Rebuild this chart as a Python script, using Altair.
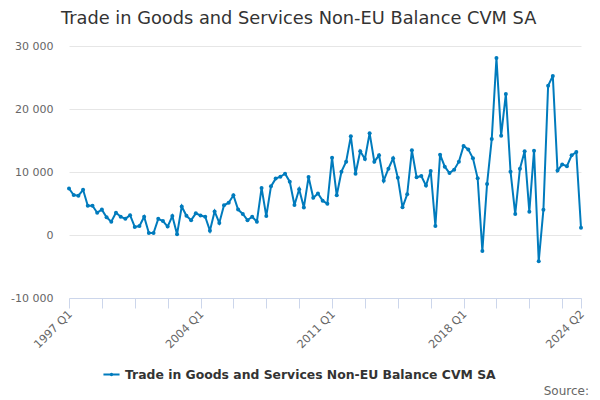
import altair as alt
import pandas as pd

SERIES = "Trade in Goods and Services Non-EU Balance CVM SA"
values = [
    7380, 6350, 6250, 7180, 4650, 4650, 3540, 4030, 2800, 2120,
    3540, 2900, 2560, 3150, 1280, 1430, 2900, 300, 300, 2560,
    2210, 1330, 3000, 100, 4530, 3050, 2360, 3440, 3100, 2900,
    690, 3740, 1920, 4720, 5120, 6300, 4030, 3350, 2360, 2900,
    2120, 7480, 3000, 7720, 8950, 9250, 9740, 8460, 4770, 7280,
    4380, 9200, 5900, 6590, 5450, 4960, 12270, 6300, 10050, 11640,
    15660, 9720, 13290, 12060, 16170, 11640, 12650, 8630, 10520, 12170,
    9100, 4390, 6450, 13440, 9160, 9360, 7840, 10160, 1430, 12750,
    10840, 9840, 10370, 11640, 14130, 13590, 12170, 9000, -2540, 8090,
    15240, 28090, 15770, 22380, 10050, 3330, 10520, 13290, 3700, 13390,
    -4170, 4020, 23710, 25240, 10220, 11210, 10910, 12650, 13170, 1160,
]
quarters = [f"{1997 + i // 4} Q{i % 4 + 1}" for i in range(len(values))]
tick_quarters = quarters[::7] + [quarters[-1]]
label_quarters = ["1997 Q1", "2004 Q1", "2011 Q1", "2018 Q1", "2024 Q2"]
y_ticks = [-10000, 0, 10000, 20000, 30000]

df = pd.DataFrame({"quarter": quarters, "value": values, "series": SERIES})

FONT = "DejaVu Sans"
BLUE = "#007bbd"
x = alt.X(
    "quarter:O",
    sort=quarters,
    scale=alt.Scale(type="point", padding=0),
    title=None,
    axis=alt.Axis(
        values=tick_quarters,
        labelExpr="indexof(" + str(label_quarters) + ", datum.value) >= 0 ? datum.value : ''",
        labelAngle=-45,
        labelAlign="right",
        labelBaseline="top",
        labelFont=FONT,
        labelFontSize=11.3,
        labelColor="#666666",
        labelOverlap=False,
        labelPadding=0,
        labelOffset=-3,
        tickColor="#ccd6eb",
        tickSize=10,
        domainColor="#ccd6eb",
        grid=False,
    ),
)
y = alt.Y(
    "value:Q",
    scale=alt.Scale(domain=[-10000, 30000], nice=False),
    title=None,
    axis=alt.Axis(
        values=y_ticks,
        labelExpr="replace(replace(format(datum.value, ','), ',', ' '), '\u2212', '-')",
        labelFont=FONT,
        labelFontSize=11,
        labelColor="#666666",
        labelPadding=16,
        ticks=False,
        domain=False,
        gridColor="#e6e6e6",
    ),
)
color = alt.Color(
    "series:N",
    scale=alt.Scale(range=[BLUE]),
    legend=alt.Legend(
        title=None,
        orient="none",
        legendX=33,
        legendY=319,
        symbolType="M-1,0H1M-0.1,0A0.1,0.1,0,1,1,0.1,0A0.1,0.1,0,1,1,-0.1,0",
        symbolSize=260,
        symbolStrokeWidth=2,
        labelFont=FONT,
        labelFontSize=12.4,
        labelFontWeight="bold",
        labelColor="#333333",
        labelLimit=500,
    ),
)

line = alt.Chart(df).mark_line(strokeWidth=2).encode(x=x, y=y, color=color)
points = alt.Chart(df).mark_point(filled=True, size=16, opacity=1).encode(x=x, y=y, color=alt.Color("series:N", legend=None, scale=alt.Scale(range=[BLUE])))
source = alt.Chart(pd.DataFrame({"t": ["Source:"]})).mark_text(
    align="right", font=FONT, fontSize=12, color="#666666", baseline="middle"
).encode(text="t:N", x=alt.value(520), y=alt.value(345))

chart = alt.layer(line, points, source).properties(
    width=512,
    height=252,
    padding={"left": 61, "top": 38, "right": 11, "bottom": 100},
    autosize=alt.AutoSizeParams(type="none"),
    title=alt.Title(
        "Trade in Goods and Services Non-EU Balance CVM SA",
        anchor="start",
        frame="group",
        dx=-8,
        offset=12,
        font=FONT,
        fontSize=17.8,
        fontWeight="normal",
        color="#333333",
    ),
).configure_view(stroke=None)

chart.save("out.html", embed_options={"renderer": "svg", "actions": False})
